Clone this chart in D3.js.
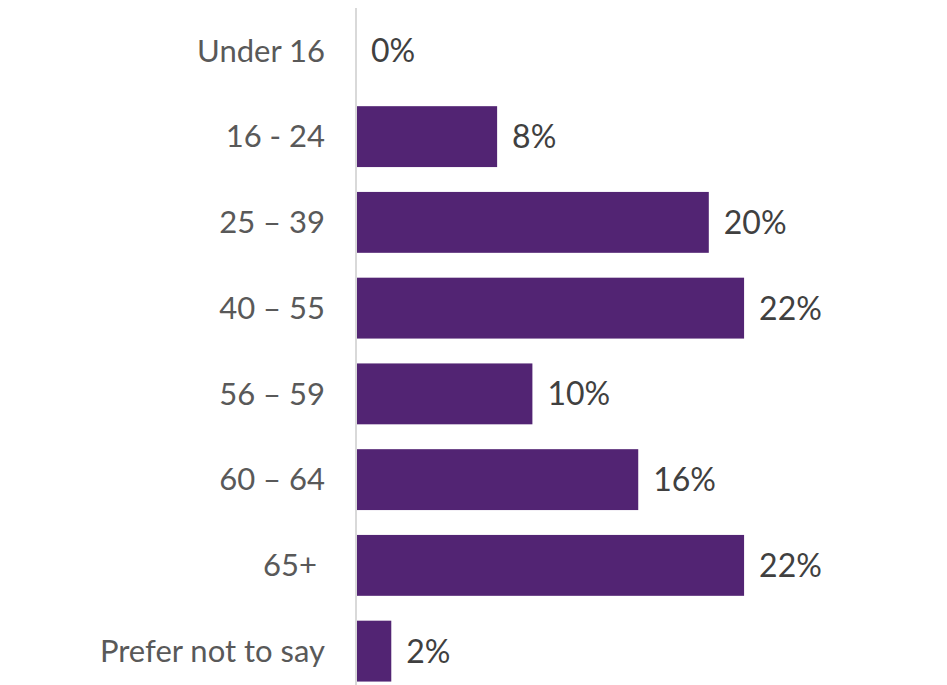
<!DOCTYPE html>
<html>
<head>
<meta charset="utf-8">
<script src="https://cdn.jsdelivr.net/npm/d3@7"></script>
<style>
  body { margin: 0; background: #fff; }
  svg text { font-family: "Lato", "Open Sans", sans-serif; }
</style>
</head>
<body>
<div id="age_chart"></div>
<script>
(() => {

  let categories = ["Under 16", "16 - 24", "25 \u2013 39", "40 \u2013 55", "56 \u2013 59", "60 \u2013 64", "65+\u00a0", "Prefer not to say"]
  let values = [0, 8, 20, 22, 10, 16, 22, 2]

  let data = categories.map((c, i) => ({"age": c, "perc": values[i]}))

  let svg = d3.select("#age_chart")
  .append("svg")
  .attr("width", 947)
  .attr("height", 685)

  let margin = {top: 8, left: 356}

  //Y axis (categories)
  let y = d3.scaleBand()
  .range([margin.top, 694])
  .paddingInner(0.29)
  .paddingOuter(0.145)
  y.domain(categories)

  //X axis (percent)
  let x = d3.scaleLinear()
  .range([margin.left, margin.left + 441])
  x.domain([0, 25])

  svg.selectAll(".age_bar")
  .data(data)
  .enter()
  .append("rect")
  .attr("class", "age_bar")
  .attr("x", x(0))
  .attr("y", d => y(d.age))
  .attr("width", d => x(d.perc) - x(0))
  .attr("height", y.bandwidth())
  .style("fill", "#522473")

  // category labels, no ticks
  let y_axis = svg.append("g")
  .attr("transform", "translate(" + x(0) + ",0)")
  .call(d3.axisLeft(y).tickSize(0).tickPadding(31))

  y_axis.select(".domain").remove()
  y_axis.selectAll("text")
  .style("font-size", "31px")
  .style("fill", "#595959")
  .style("white-space", "pre")
  .attr("dy", "0.35em")

  svg.append("line")
  .attr("x1", x(0))
  .attr("x2", x(0))
  .attr("y1", margin.top)
  .attr("y2", 685)
  .style("stroke", "#d9d9d9")
  .style("stroke-width", 2)

  svg.selectAll(".age_bar_labels")
  .data(data)
  .enter()
  .append("text")
  .attr("class", "age_bar_labels")
  .text(d => d.perc + "%")
  .attr("x", d => x(d.perc) + 15)
  .attr("y", d => y(d.age) + y.bandwidth() / 2)
  .attr("dy", "0.36em")
  .style("font-size", "32px")
  .style("fill", "#404040")

})()
</script>
</body>
</html>
